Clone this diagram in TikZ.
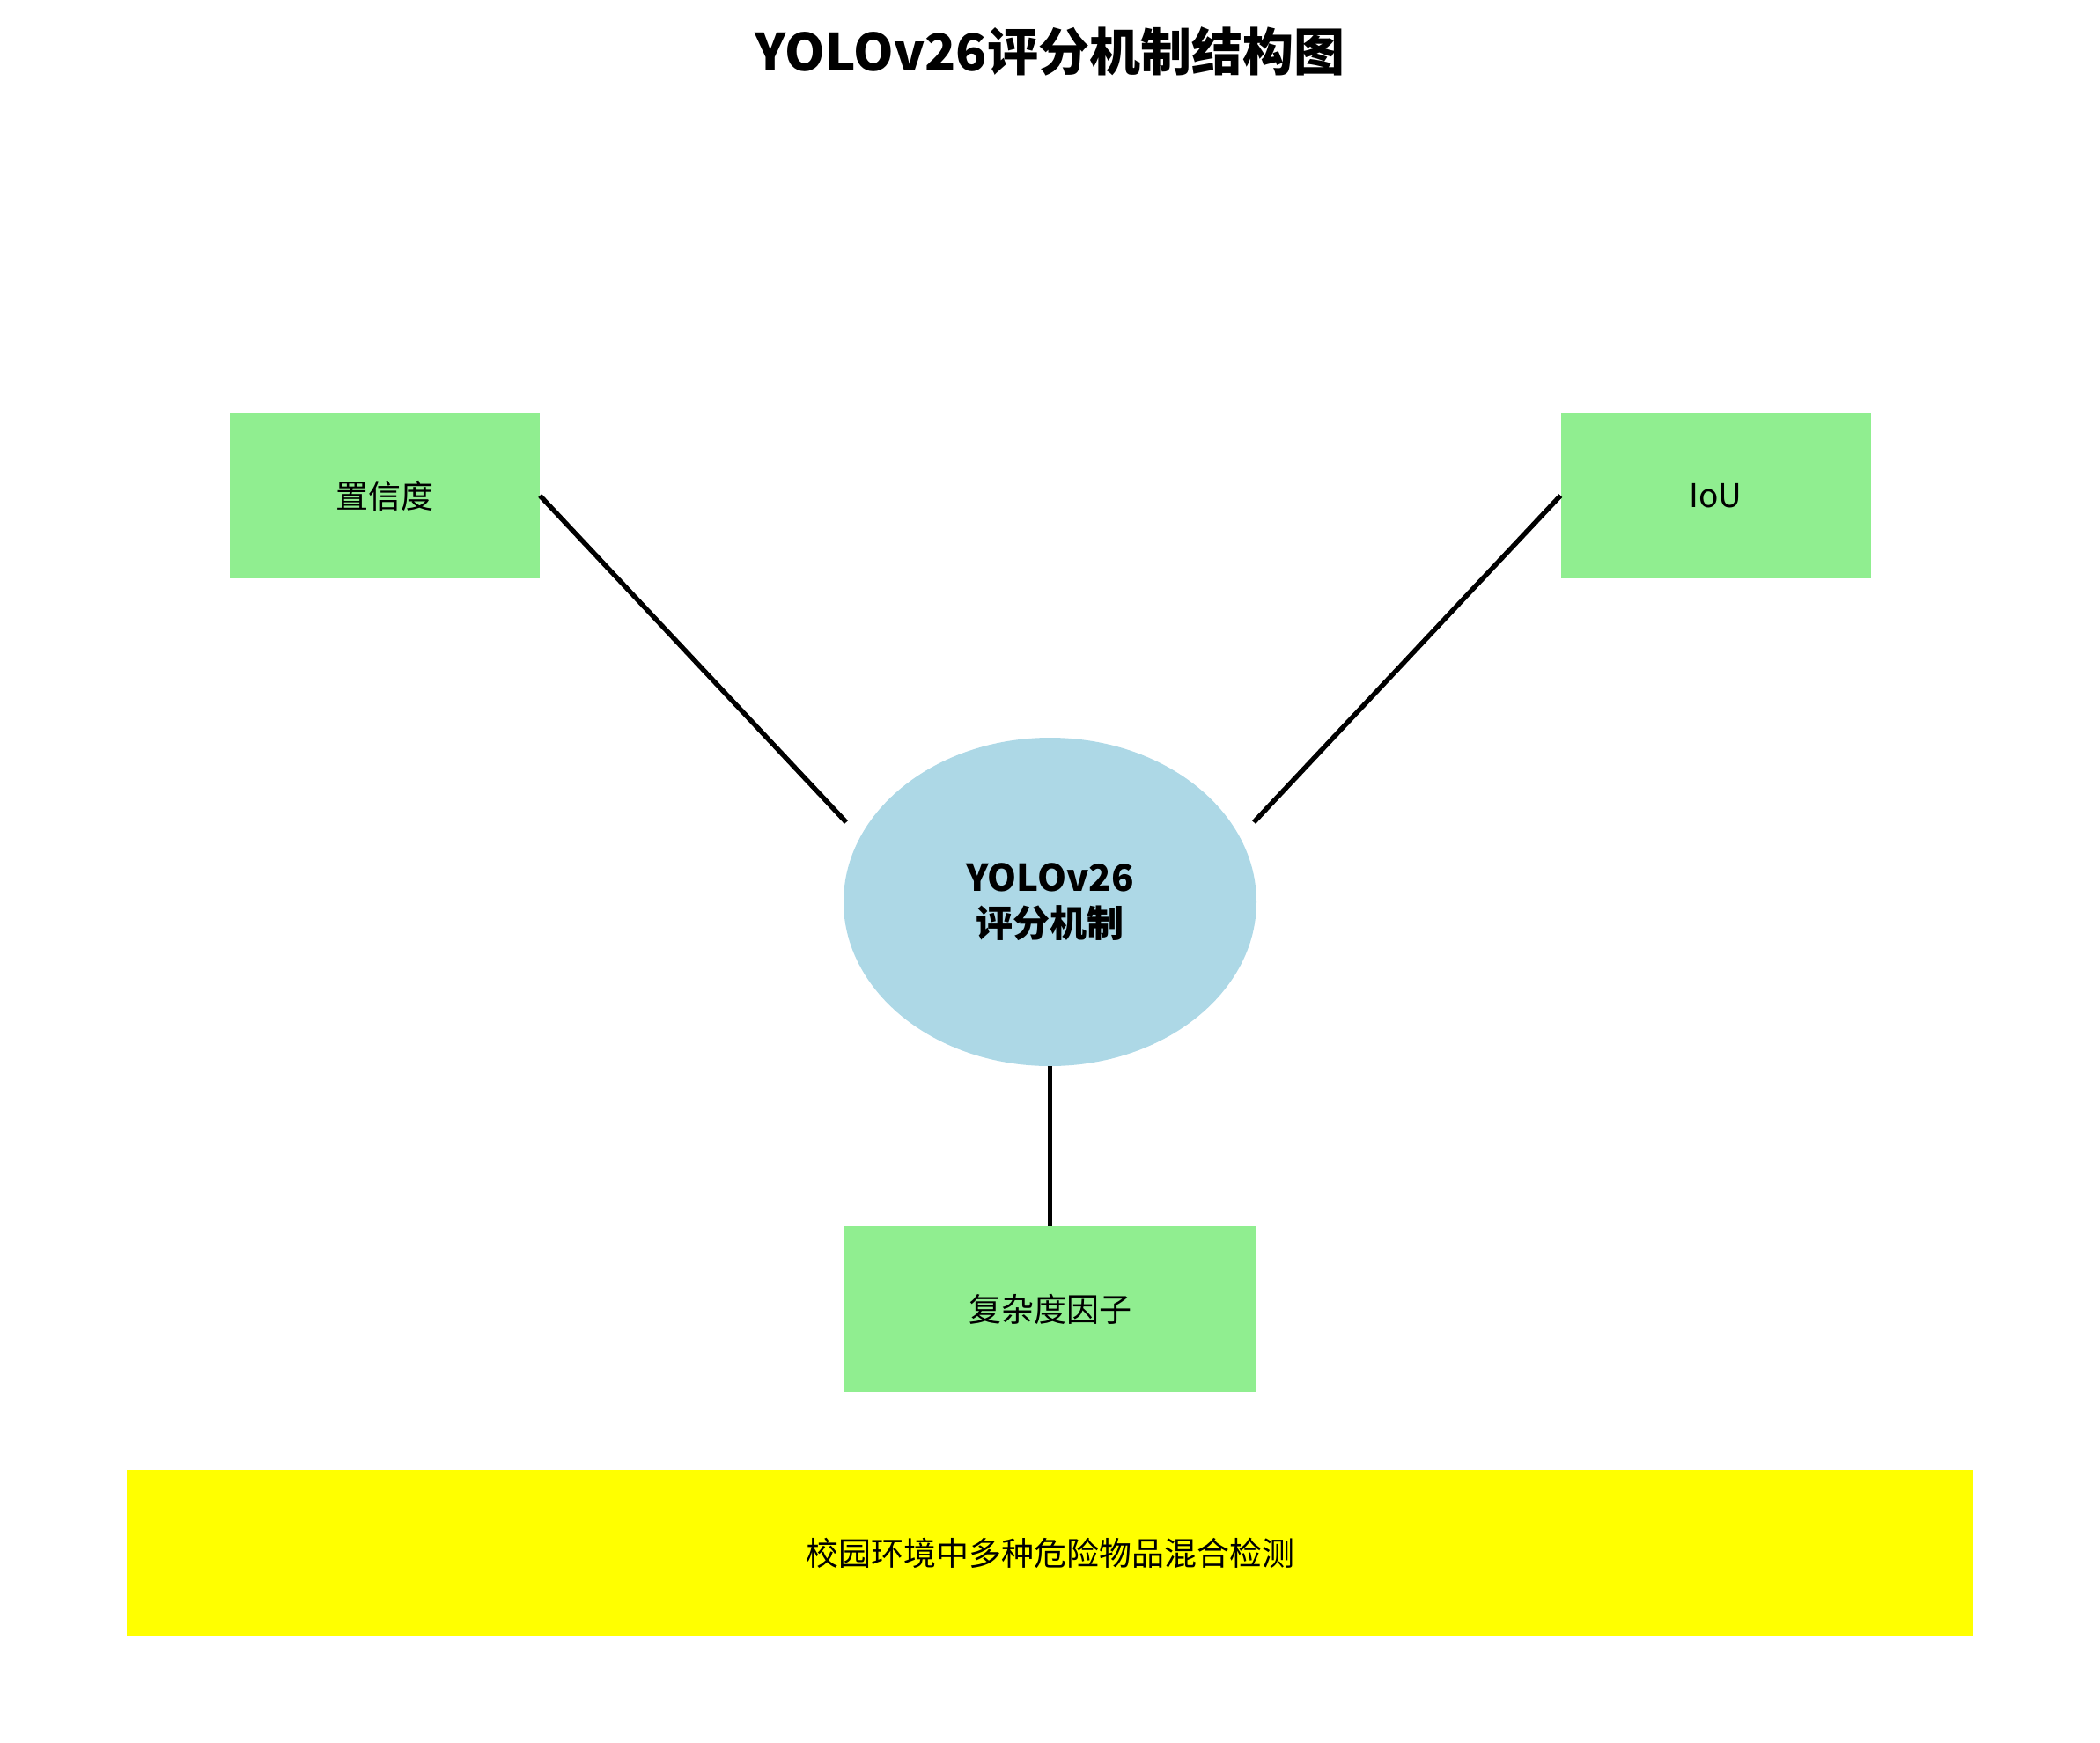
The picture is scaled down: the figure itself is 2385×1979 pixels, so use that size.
\documentclass[tikz,border=0pt]{standalone}
\usepackage{fontspec}
\setmainfont{Noto Sans CJK SC}
\usetikzlibrary{shapes.geometric}
\definecolor{lgreen}{HTML}{90EE90}
\definecolor{lblue}{HTML}{ADD8E6}
\definecolor{yel}{HTML}{FFFF00}
\tikzset{
  leaf/.style={rectangle, fill=lgreen, draw=none, inner sep=0pt, minimum width=352pt, minimum height=188pt, font=\fontsize{37}{44}\selectfont},
  hub/.style={ellipse, fill=lblue, draw=none, inner sep=0pt, minimum width=469pt, minimum height=373pt, align=center, font=\fontsize{42}{52}\selectfont\bfseries},
  band/.style={rectangle, fill=yel, draw=none, inner sep=0pt, minimum width=2097pt, minimum height=188pt, font=\fontsize{37}{44}\selectfont},
  link/.style={line width=5.5pt, black},
}
\begin{document}
\begin{tikzpicture}[x=1pt,y=-1pt]
\useasboundingbox (0,0) rectangle (2385,1979);
\node[font=\fontsize{58}{64}\selectfont\bfseries] (title) at (1192.5,58) {YOLOv26评分机制结构图};
\node[leaf] (conf) at (437,563) {置信度};
\node[leaf] (iou) at (1948.5,563) {IoU};
\node[hub] (hub) at (1192.5,1024.5) {YOLOv26\\评分机制};
\node[leaf, minimum width=469pt] (cplx) at (1192.5,1487) {复杂度因子};
\node[band] (scene) at (1192.5,1764) {校园环境中多种危险物品混合检测};
\coordinate (hl) at (961,934);
\coordinate (hr) at (1424,934);
\draw[link] (conf.east) -- (hl);
\draw[link] (iou.west) -- (hr);
\draw[link] (hub.south) -- (cplx.north);
\end{tikzpicture}
\end{document}
